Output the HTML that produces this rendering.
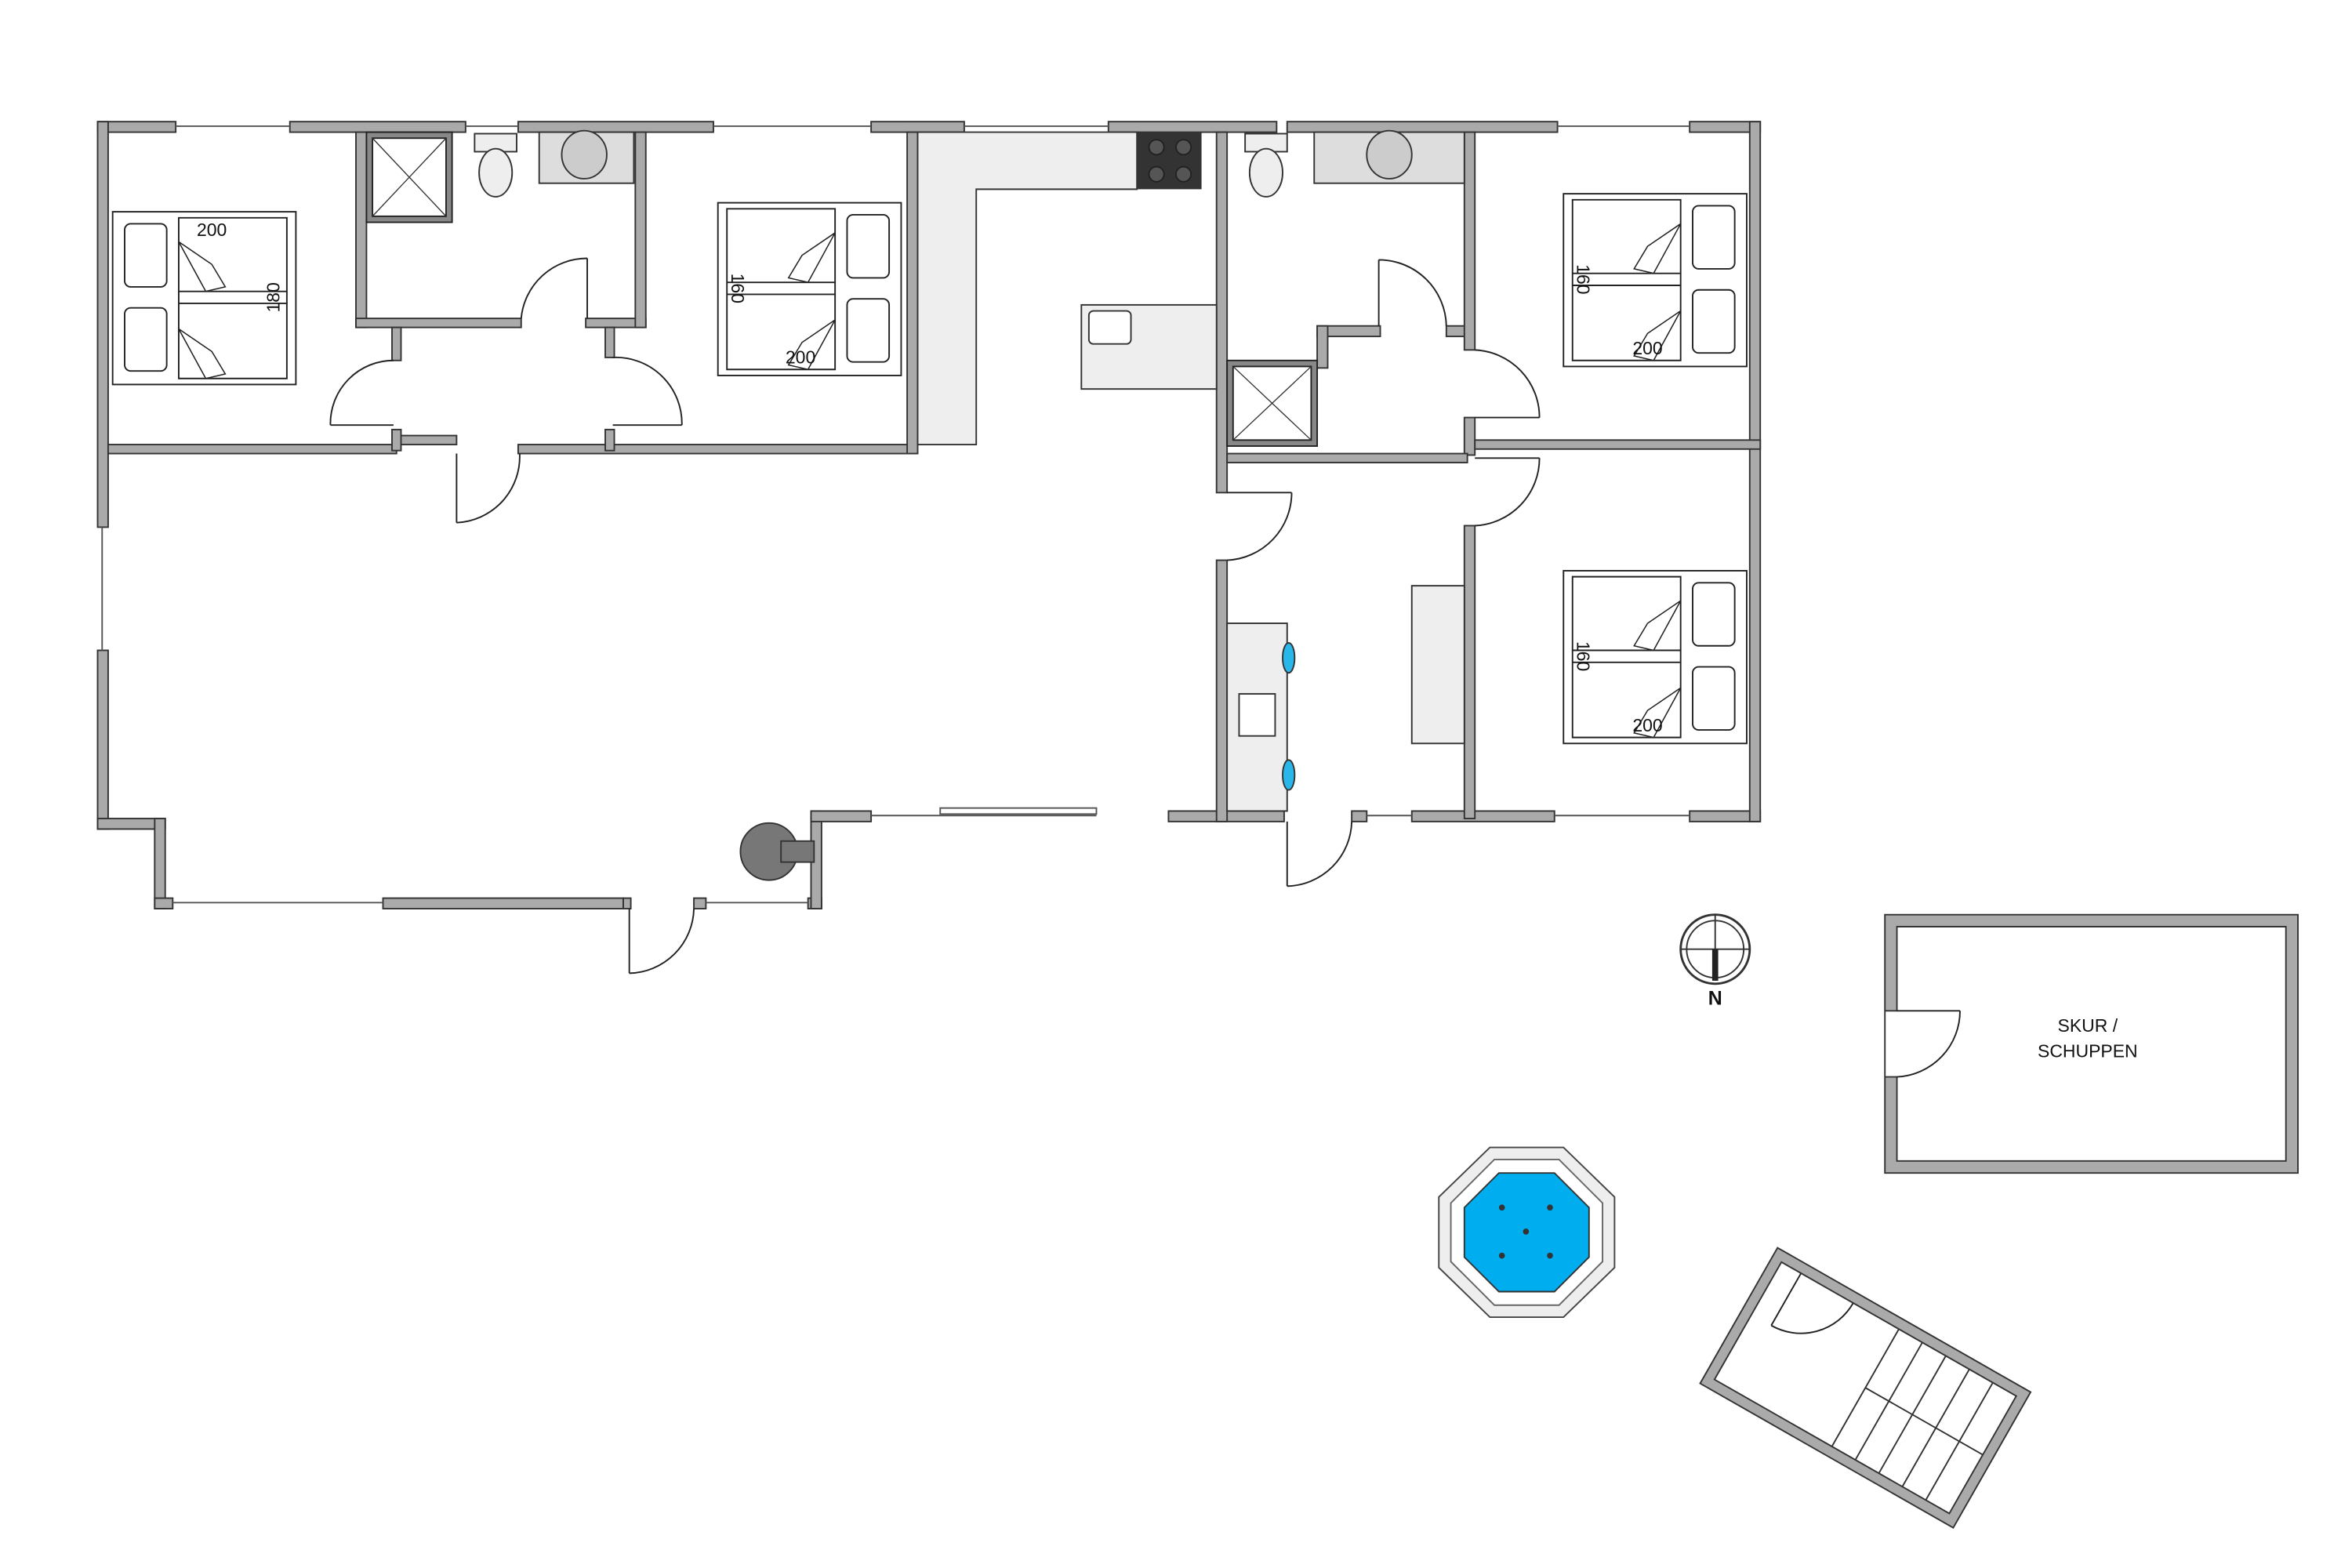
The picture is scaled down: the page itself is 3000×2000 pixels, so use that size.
<!DOCTYPE html>
<html><head><meta charset="utf-8"><style>
html,body{margin:0;padding:0;background:#fff}
svg{display:block}
text{font-family:"Liberation Sans",sans-serif;fill:#111}
</style></head><body>
<svg width="3000" height="2000" viewBox="0 0 1566 1044" xmlns="http://www.w3.org/2000/svg">
<defs>
<g id="bed2">
<rect x="0" y="0" width="122" height="115" fill="#fff" stroke="#222"/>
<rect x="8" y="8" width="28" height="42" rx="4" fill="#fff" stroke="#222"/>
<rect x="8" y="64" width="28" height="42" rx="4" fill="#fff" stroke="#222"/>
<path d="M44 4 H116 V111 H44 Z" fill="none" stroke="#222"/>
<path d="M44 53 H116 M44 61 H116" stroke="#222"/>
<path d="M44 20 L66 35 L75 50 L62 53 Z M44 78 L66 93 L75 108 L62 111 Z" fill="#fff" stroke="#222" stroke-width=".8"/>
</g>
<g id="bedR">
<rect x="0" y="0" width="122" height="115" fill="#fff" stroke="#222"/>
<rect x="86" y="8" width="28" height="42" rx="4" fill="#fff" stroke="#222"/>
<rect x="86" y="64" width="28" height="42" rx="4" fill="#fff" stroke="#222"/>
<path d="M6 4 H78 V111 H6 Z" fill="none" stroke="#222"/>
<path d="M6 53 H78 M6 61 H78" stroke="#222"/>
<path d="M78 20 L56 35 L47 50 L60 53 Z M78 78 L56 93 L47 108 L60 111 Z" fill="#fff" stroke="#222" stroke-width=".8"/>
</g>
</defs>
<g fill="#aaa" stroke="#333" stroke-width="1">
<rect x="65" y="81" width="52" height="7"/>
<rect x="193" y="81" width="117" height="7"/>
<rect x="345" y="81" width="130" height="7"/>
<rect x="580" y="81" width="62" height="7"/>
<rect x="738" y="81" width="112" height="7"/>
<rect x="857" y="81" width="180" height="7"/>
<rect x="1125" y="81" width="47" height="7"/>
<rect x="65" y="81" width="7" height="270"/>
<rect x="65" y="433" width="7" height="119"/>
<rect x="65" y="545" width="45" height="7"/>
<rect x="103" y="545" width="7" height="60"/>
<rect x="103" y="598" width="12" height="7"/>
<rect x="255" y="598" width="160" height="7"/>
<rect x="415" y="598" width="5" height="7"/>
<rect x="462" y="598" width="8" height="7"/>
<rect x="538" y="598" width="9" height="7"/>
<rect x="540" y="540" width="7" height="65"/>
<rect x="540" y="540" width="40" height="7"/>
<rect x="778" y="540" width="77" height="7"/>
<rect x="900" y="540" width="10" height="7"/>
<rect x="940" y="540" width="95" height="7"/>
<rect x="1125" y="540" width="47" height="7"/>
<rect x="1165" y="81" width="7" height="466"/>
<rect x="72" y="296" width="192" height="6"/>
<rect x="264" y="290" width="40" height="6"/>
<rect x="345" y="296" width="265" height="6"/>
<rect x="604" y="88" width="7" height="214"/>
<rect x="237" y="88" width="7" height="130"/>
<rect x="237" y="212" width="110" height="6"/>
<rect x="390" y="212" width="40" height="6"/>
<rect x="423" y="88" width="7" height="130"/>
<rect x="261" y="218" width="6" height="22"/>
<rect x="261" y="286" width="6" height="14"/>
<rect x="403" y="218" width="6" height="20"/>
<rect x="403" y="286" width="6" height="14"/>
<rect x="810" y="88" width="7" height="240"/>
<rect x="810" y="373" width="7" height="174"/>
<rect x="877" y="217" width="42" height="7"/>
<rect x="963" y="217" width="15" height="7"/>
<rect x="877" y="217" width="7" height="28"/>
<rect x="975" y="88" width="7" height="145"/>
<rect x="975" y="278" width="7" height="25"/>
<rect x="975" y="350" width="7" height="195"/>
<rect x="982" y="293" width="190" height="6"/>
<rect x="817" y="302" width="160" height="6"/>
<path d="M1255 609 H1530 V781 H1255 Z M1263 617 V673 H1255 V717 H1263 V773 H1522 V617 Z" fill-rule="evenodd"/>
</g>
<g stroke="#555" stroke-width="1" fill="none">
<line x1="117" y1="84" x2="193" y2="84"/><line x1="310" y1="84" x2="345" y2="84"/>
<line x1="475" y1="84" x2="580" y2="84"/><line x1="642" y1="84" x2="738" y2="84"/>
<line x1="1037" y1="84" x2="1125" y2="84"/><line x1="68" y1="351" x2="68" y2="433"/>
<line x1="115" y1="601" x2="255" y2="601"/><line x1="470" y1="601" x2="538" y2="601"/>
<line x1="580" y1="543" x2="730" y2="543"/><rect x="626" y="538" width="104" height="4"/>
<line x1="910" y1="543" x2="940" y2="543"/><line x1="1035" y1="543" x2="1125" y2="543"/>
</g>
<path d="M611 88 H757 V126 H650 V296 H611 Z" fill="#eee" stroke="#333"/>
<rect x="757" y="88" width="43" height="38" fill="#333"/>
<g fill="#555" stroke="#222"><circle cx="770" cy="98" r="5"/><circle cx="788" cy="98" r="5"/><circle cx="770" cy="116" r="5"/><circle cx="788" cy="116" r="5"/></g>
<rect x="720" y="203" width="90" height="56" fill="#eee" stroke="#333"/>
<rect x="725" y="207" width="28" height="22" rx="3" fill="#fff" stroke="#333"/>
<rect x="244" y="88" width="57" height="60" fill="#888" stroke="#222"/>
<rect x="248" y="92" width="49" height="52" fill="#fff" stroke="#222"/>
<path d="M248 92 L297 144 M297 92 L248 144" stroke="#333" stroke-width=".7"/>
<rect x="316" y="89" width="28" height="12" fill="#eee" stroke="#333"/>
<ellipse cx="330" cy="115" rx="11" ry="16" fill="#eee" stroke="#333"/>
<rect x="359" y="88" width="63" height="34" fill="#ddd" stroke="#333"/>
<ellipse cx="389" cy="103" rx="15" ry="16" fill="#ccc" stroke="#333"/>
<rect x="829" y="89" width="28" height="12" fill="#eee" stroke="#333"/>
<ellipse cx="843" cy="115" rx="11" ry="16" fill="#eee" stroke="#333"/>
<rect x="875" y="88" width="100" height="34" fill="#ddd" stroke="#333"/>
<ellipse cx="925" cy="103" rx="15" ry="16" fill="#ccc" stroke="#333"/>
<rect x="817" y="240" width="60" height="57" fill="#888" stroke="#222"/>
<rect x="821" y="244" width="52" height="49" fill="#fff" stroke="#222"/>
<path d="M821 244 L873 293 M873 244 L821 293" stroke="#333" stroke-width=".7"/>
<rect x="817" y="415" width="40" height="125" fill="#eee" stroke="#333"/>
<rect x="825" y="462" width="24" height="28" fill="#fff" stroke="#333"/>
<ellipse cx="858" cy="438" rx="4" ry="10" fill="#29b6e8" stroke="#333"/>
<ellipse cx="858" cy="516" rx="4" ry="10" fill="#29b6e8" stroke="#333"/>
<rect x="940" y="390" width="35" height="105" fill="#eee" stroke="#333"/>
<g fill="none" stroke="#222" stroke-width="1">
<path d="M391 172 V212 M391 172 A44 44 0 0 0 347 212"/>
<path d="M220 283 H262 M220 283 A42 42 0 0 1 262 240"/>
<path d="M454 283 H408 M454 283 A44 44 0 0 0 408 238"/>
<path d="M304 302 V348 M304 348 A44 44 0 0 0 346 302"/>
<path d="M419 605 V648 M419 648 A44 44 0 0 0 462 605"/>
<path d="M918 217 V173 M963 217 A45 45 0 0 0 918 173"/>
<path d="M982 278 H1025 M1025 278 A45 45 0 0 0 982 233"/>
<path d="M982 305 H1025 M1025 305 A45 45 0 0 1 982 350"/>
<path d="M817 328 H860 M860 328 A45 45 0 0 1 817 373"/>
<path d="M857 547 V590 M857 590 A44 44 0 0 0 900 547"/>
<path d="M1263 673 H1305 M1305 673 A44 44 0 0 1 1263 717"/>
</g>
<use href="#bed2" x="75" y="141"/>
<text x="141" y="157" font-size="12" text-anchor="middle">200</text>
<text transform="translate(186,198) rotate(-90)" font-size="12" text-anchor="middle">180</text>
<use href="#bedR" x="478" y="135"/>
<text transform="translate(487,192) rotate(90)" font-size="12" text-anchor="middle">160</text>
<text x="533" y="242" font-size="12" text-anchor="middle">200</text>
<use href="#bedR" x="1041" y="129"/>
<text transform="translate(1050,186) rotate(90)" font-size="12" text-anchor="middle">160</text>
<text x="1097" y="236" font-size="12" text-anchor="middle">200</text>
<use href="#bedR" x="1041" y="380"/>
<text transform="translate(1050,437) rotate(90)" font-size="12" text-anchor="middle">160</text>
<text x="1097" y="487" font-size="12" text-anchor="middle">200</text>
<circle cx="512" cy="567" r="19" fill="#777" stroke="#333"/>
<rect x="520" y="560" width="22" height="14" fill="#777" stroke="#333"/>
<circle cx="1142" cy="632" r="23" fill="none" stroke="#333" stroke-width="1.5"/>
<circle cx="1142" cy="632" r="19" fill="none" stroke="#333"/>
<line x1="1119" y1="632" x2="1165" y2="632" stroke="#333"/>
<rect x="1140" y="632" width="4" height="21" fill="#222"/>
<line x1="1142" y1="609" x2="1142" y2="632" stroke="#333"/>
<text x="1142" y="669" font-size="13" font-weight="bold" text-anchor="middle">N</text>
<text x="1390" y="687" font-size="12" text-anchor="middle">SKUR /</text>
<text x="1390" y="704" font-size="12" text-anchor="middle">SCHUPPEN</text>
<polygon points="992,764 1041,764 1075,797 1075,844 1041,877 992,877 958,844 958,797" fill="#eee" stroke="#444"/>
<polygon points="995,772 1038,772 1067,801 1067,840 1038,869 995,869 966,840 966,801" fill="#fff" stroke="#666"/>
<polygon points="998,781 1035,781 1058,804 1058,837 1035,860 998,860 975,837 975,804" fill="#00aeef" stroke="#333"/>
<g fill="#333"><circle cx="1016" cy="820" r="2"/><circle cx="1000" cy="804" r="2"/><circle cx="1032" cy="804" r="2"/><circle cx="1000" cy="836" r="2"/><circle cx="1032" cy="836" r="2"/></g>
<g transform="translate(1242,924) rotate(29.7)">
<rect x="-97" y="-52" width="194" height="104" fill="#aaa" stroke="#333"/>
<rect x="-90" y="-45" width="180" height="90" fill="#fff" stroke="#333"/>
<g stroke="#333"><line x1="0" y1="-45" x2="0" y2="45"/><line x1="18" y1="-45" x2="18" y2="45"/><line x1="36" y1="-45" x2="36" y2="45"/><line x1="54" y1="-45" x2="54" y2="45"/><line x1="72" y1="-45" x2="72" y2="45"/><line x1="0" y1="0" x2="90" y2="0"/></g>
<path d="M-75 -45 V-5 M-75 -5 A40 40 0 0 0 -35 -45" fill="none" stroke="#222"/>
</g>
</svg>
</body></html>
